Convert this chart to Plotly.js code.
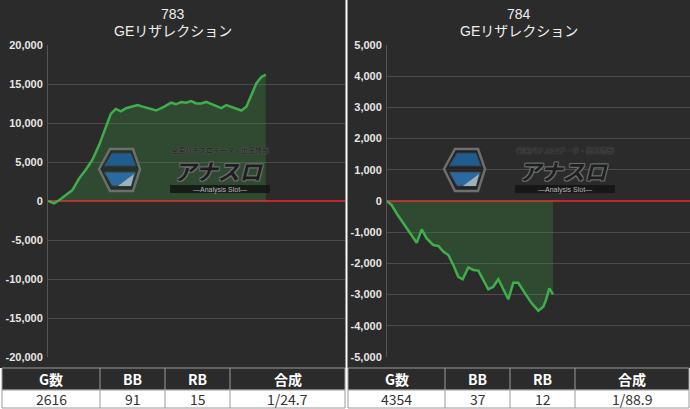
<!DOCTYPE html>
<html>
<head>
<meta charset="utf-8">
<script src="https://cdn.plot.ly/plotly-3.0.1.min.js"></script>
<style>
html,body{margin:0;padding:0;background:#fff;}
#chart{width:690px;height:409px;}
</style>
</head>
<body>
<div id="chart"></div>
<script>
// ---- data ----
const machineNos = ['783', '784'];
const machineName = 'GEリザレクション';

const games1 = [0, 72, 133, 213, 293, 374, 454, 534, 615, 696, 756, 816, 876, 937, 1016, 1077, 1137, 1218, 1298, 1398, 1479, 1539, 1600, 1660, 1720, 1780, 1841, 1901, 1981, 2041, 2082, 2142, 2222, 2283, 2323, 2383, 2444, 2504, 2564, 2616];
const diff1 = [0, -300, 100, 800, 1400, 2900, 4000, 5300, 7200, 9500, 11200, 11800, 11500, 11900, 12100, 12300, 12100, 11800, 11600, 12100, 12600, 12400, 12700, 12600, 12800, 12500, 12500, 12700, 12300, 12000, 11900, 12300, 12000, 11700, 11600, 12100, 13600, 15100, 15900, 16200];

const games2 = [0, 123, 254, 428, 603, 779, 910, 1041, 1214, 1346, 1477, 1608, 1739, 1870, 1986, 2133, 2264, 2395, 2657, 2788, 2919, 3051, 3182, 3313, 3444, 3620, 3796, 3969, 4100, 4171, 4257, 4354];
const diff2 = [0, -130, -400, -710, -1040, -1340, -910, -1200, -1410, -1440, -1620, -1730, -2050, -2430, -2510, -2130, -2210, -2230, -2830, -2750, -2510, -2850, -3150, -2620, -2620, -2960, -3280, -3520, -3390, -3170, -2800, -2990];

const yTickVals1 = [20000, 15000, 10000, 5000, 0, -5000, -10000, -15000, -20000];
const yTickText1 = ['20,000', '15,000', '10,000', '5,000', '0', '-5,000', '-10,000', '-15,000', '-20,000'];
const yTickVals2 = [5000, 4000, 3000, 2000, 1000, 0, -1000, -2000, -3000, -4000, -5000];
const yTickText2 = ['5,000', '4,000', '3,000', '2,000', '1,000', '0', '-1,000', '-2,000', '-3,000', '-4,000', '-5,000'];

const tableHeader = ['G数', 'BB', 'RB', '合成'];
const table1 = ['2616', '91', '15', '1/24.7'];
const table2 = ['4354', '37', '12', '1/88.9'];

// ---- layout helpers ----
const W = 690, H = 409;
const px = x => x / W;
const py = y => 1 - y / H;
const DARK = '#2b2b2b';
const FONT = 'Liberation Sans, Arial, Noto Sans CJK JP, sans-serif';
const JFONT = 'Noto Sans CJK JP, sans-serif';

const lineStyle = {color: '#3fae4c', width: 2.5};
const fillCol = 'rgba(62,160,72,0.27)';

const traces = [
  {x: games1, y: diff1, type: 'scatter', mode: 'lines', line: lineStyle,
   fill: 'tozeroy', fillcolor: fillCol, xaxis: 'x', yaxis: 'y', hoverinfo: 'skip'},
  {x: games2, y: diff2, type: 'scatter', mode: 'lines', line: lineStyle,
   fill: 'tozeroy', fillcolor: fillCol, xaxis: 'x2', yaxis: 'y2', hoverinfo: 'skip'}
];

const shapes = [];
const annotations = [];

// panel backgrounds
shapes.push({type: 'rect', xref: 'paper', yref: 'paper', layer: 'below', x0: 0, x1: px(345.5), y0: py(368), y1: 1,
  line: {width: 0}, fillcolor: DARK});
shapes.push({type: 'rect', xref: 'paper', yref: 'paper', layer: 'below', x0: px(347.5), x1: 1, y0: py(368), y1: 1,
  line: {width: 0}, fillcolor: DARK});

// tables drawn with shapes + annotations
function drawTable(vals, edges) {
  const top = 368, mid = 390, bot = 408;
  const border = '#9a9a9a';
  shapes.push({type: 'rect', xref: 'paper', yref: 'paper', layer: 'above',
    x0: px(edges[0]), x1: px(edges[edges.length - 1]), y0: py(mid), y1: py(top),
    line: {color: border, width: 1}, fillcolor: DARK});
  shapes.push({type: 'rect', xref: 'paper', yref: 'paper', layer: 'above',
    x0: px(edges[0]), x1: px(edges[edges.length - 1]), y0: py(bot), y1: py(mid),
    line: {color: border, width: 1}, fillcolor: '#ffffff'});
  for (let i = 1; i < edges.length - 1; i++) {
    shapes.push({type: 'line', xref: 'paper', yref: 'paper', layer: 'above',
      x0: px(edges[i]), x1: px(edges[i]), y0: py(bot), y1: py(top),
      line: {color: border, width: 1}});
  }
  for (let i = 0; i < tableHeader.length; i++) {
    const cx = px((edges[i] + edges[i + 1]) / 2);
    annotations.push({xref: 'paper', yref: 'paper', x: cx, y: py((top + mid) / 2),
      xanchor: 'center', yanchor: 'middle', showarrow: false, text: tableHeader[i],
      font: {family: JFONT, size: 14, color: '#ffffff', weight: 'bold'}});
    annotations.push({xref: 'paper', yref: 'paper', x: cx, y: py((mid + bot) / 2),
      xanchor: 'center', yanchor: 'middle', showarrow: false, text: vals[i],
      font: {family: JFONT, size: 14, color: '#333333'}});
  }
}
drawTable(table1, [2, 100, 165, 230, 345]);
drawTable(table2, [348, 445, 510, 575, 689]);

const yDomain = [py(357), py(45)];
function yAxis(vals, text, range, anchor) {
  return {
    domain: yDomain, range: range, anchor: anchor,
    tickmode: 'array', tickvals: vals, ticktext: text,
    showgrid: true, gridcolor: '#4b4b4b', gridwidth: 1,
    zeroline: true, zerolinecolor: '#c0282d', zerolinewidth: 2,
    showline: true, linecolor: '#555555', linewidth: 1,
    ticks: '', ticklabelstandoff: 2,
    tickfont: {family: FONT, size: 11, color: '#e6e6e6', weight: 'bold'},
    fixedrange: true
  };
}
function xAxis(domain, range, anchor) {
  return {domain: domain, range: range, anchor: anchor, visible: false, fixedrange: true};
}

// watermark logo (decoration), built relative to an origin
function logo(ox) {
  const P = (pts) => 'M' + pts.map(p => px(ox + p[0]) + ',' + py(p[1])).join('L') + 'Z';
  shapes.push({type: 'path', xref: 'paper', yref: 'paper', layer: 'above',
    path: P([[99,169],[110,149],[133,149],[140,169],[133,191],[110,191]]),
    line: {color: '#6b6f6e', width: 2.5}, fillcolor: 'rgba(30,30,30,0.55)'});
  shapes.push({type: 'path', xref: 'paper', yref: 'paper', layer: 'above',
    path: P([[104,166],[112,153],[131,153],[136,166]]),
    line: {color: '#3a3f44', width: 1}, fillcolor: '#1f5d8e'});
  shapes.push({type: 'path', xref: 'paper', yref: 'paper', layer: 'above',
    path: P([[104,172],[136,172],[131,186],[112,186]]),
    line: {color: '#3a3f44', width: 1}, fillcolor: '#2b6aa0'});
  shapes.push({type: 'path', xref: 'paper', yref: 'paper', layer: 'above',
    path: P([[118,186],[134,174],[131,186]]),
    line: {width: 0}, fillcolor: '#9fb0b8'});
  shapes.push({type: 'rect', xref: 'paper', yref: 'paper', layer: 'above',
    x0: px(ox + 170), x1: px(ox + 270), y0: py(193), y1: py(185),
    line: {width: 0}, fillcolor: 'rgba(20,20,20,0.85)'});
  const outline = '1px 1px 0 #6d6d6d, -1px -1px 0 #6d6d6d, 1px -1px 0 #6d6d6d, -1px 1px 0 #6d6d6d';
  annotations.push({xref: 'paper', yref: 'paper', x: px(ox + 219), y: py(170),
    xanchor: 'center', yanchor: 'middle', showarrow: false,
    text: '<i><b>アナスロ</b></i>', borderpad: 0,
    font: {family: JFONT, size: 22, color: '#1c1f1d', shadow: outline}});
  annotations.push({xref: 'paper', yref: 'paper', x: px(ox + 220), y: py(150),
    xanchor: 'center', yanchor: 'middle', showarrow: false, borderpad: 0,
    text: '<b>全国パチスロデータ・出玉情報</b>',
    font: {family: JFONT, size: 7, color: '#2a2a2a', shadow: '0 0 1px #777'}});
  annotations.push({xref: 'paper', yref: 'paper', x: px(ox + 220), y: py(189.5),
    xanchor: 'center', yanchor: 'middle', showarrow: false, borderpad: 0,
    text: '—Analysis Slot—',
    font: {family: FONT, size: 7, color: '#b9b9b9'}});
}
logo(0);
logo(345);

const titleFont = {family: FONT, size: 14, color: '#eeeeee'};
[[173, machineNos[0]], [519, machineNos[1]]].forEach(([cx, no]) => {
  annotations.push({xref: 'paper', yref: 'paper', x: px(cx), y: py(14), xanchor: 'center', yanchor: 'middle',
    showarrow: false, text: no, font: titleFont});
  annotations.push({xref: 'paper', yref: 'paper', x: px(cx), y: py(31), xanchor: 'center', yanchor: 'middle',
    showarrow: false, text: machineName, font: titleFont});
});

const layout = {
  width: W, height: H,
  margin: {l: 0, r: 0, t: 0, b: 0, pad: 0},
  paper_bgcolor: '#ffffff',
  plot_bgcolor: DARK,
  showlegend: false,
  xaxis: xAxis([px(48), px(345)], [0, 3568], 'y'),
  yaxis: yAxis(yTickVals1, yTickText1, [-20000, 20000], 'x'),
  xaxis2: xAxis([px(387), 1], [0, 7947], 'y2'),
  yaxis2: yAxis(yTickVals2, yTickText2, [-5000, 5000], 'x2'),
  shapes: shapes,
  annotations: annotations
};

Plotly.newPlot('chart', traces, layout, {displayModeBar: false, staticPlot: true});
</script>
</body>
</html>
